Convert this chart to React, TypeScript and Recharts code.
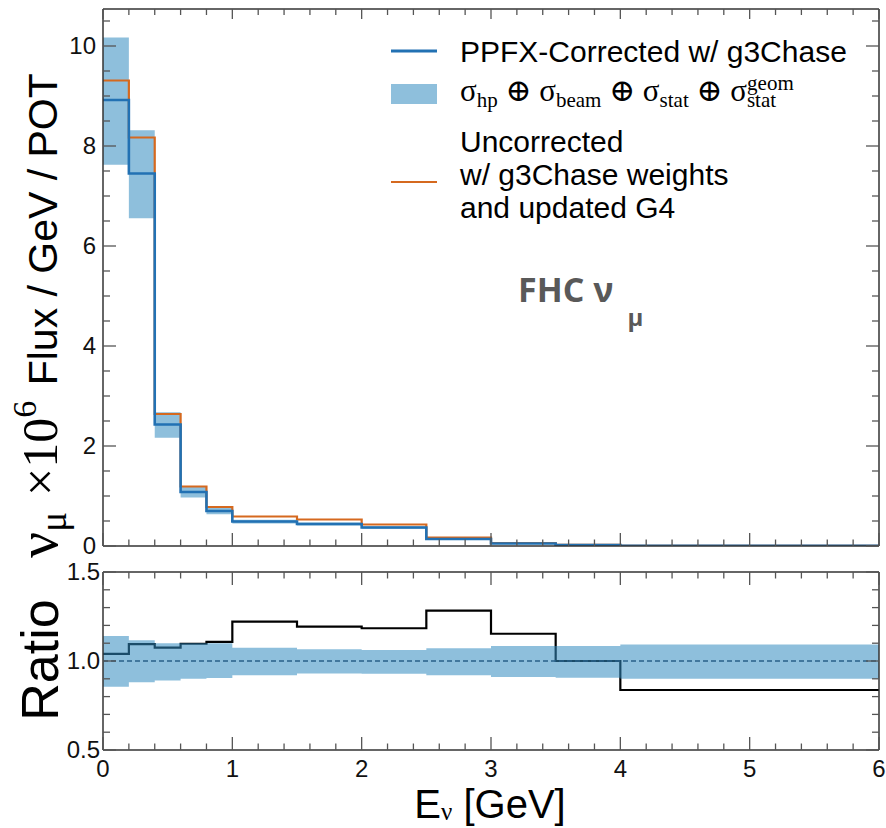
import React from "react";
import { ComposedChart, Line, Area, XAxis, YAxis, ReferenceLine } from "recharts";

// bin edges in GeV (last bin is 4-6)
const binEdges = [0, 0.2, 0.4, 0.6, 0.8, 1.0, 1.5, 2.0, 2.5, 3.0, 3.5, 4.0, 6.0];
// flux x10^6 / GeV / POT
const corrected = [8.92, 7.45, 2.43, 1.08, 0.7, 0.49, 0.44, 0.37, 0.14, 0.05, 0.02, 0.006];
const uncorrected = [9.31, 8.17, 2.64, 1.19, 0.78, 0.59, 0.53, 0.43, 0.17, 0.06, 0.022, 0.005];
const ratioValues = [1.04, 1.095, 1.075, 1.097, 1.107, 1.221, 1.193, 1.184, 1.283, 1.153, 1.0, 0.837];
// relative error band (lower / upper)
const errLow = [0.855, 0.88, 0.89, 0.9, 0.905, 0.92, 0.93, 0.929, 0.92, 0.91, 0.906, 0.9];
const errHigh = [1.14, 1.116, 1.1, 1.1, 1.1, 1.075, 1.066, 1.062, 1.071, 1.084, 1.084, 1.092];

const xMajor = [0, 1, 2, 3, 4, 5, 6];
const fluxMajor = [0, 2, 4, 6, 8, 10];
const ratioMajor = [0.5, 1.0, 1.5];

const xTicks = Array.from({ length: 31 }, (_, i) => Math.round(i * 2) / 10);
const fluxTicks = Array.from({ length: 22 }, (_, i) => i * 0.5);
const ratioTicks = Array.from({ length: 11 }, (_, i) => (5 + i) / 10);

const last = corrected.length - 1;
const fluxRows = binEdges.map((x, i) => {
  const k = Math.min(i, last);
  return {
    x,
    corr: corrected[k],
    uncorr: uncorrected[k],
    band: [corrected[k] * errLow[k], corrected[k] * errHigh[k]],
  };
});
const ratioRows = binEdges.map((x, i) => {
  const k = Math.min(i, last);
  return { x, ratio: ratioValues[k], band: [errLow[k], errHigh[k]] };
});

const BLUE = "#2271b3";
const ORANGE = "#d5691f";
const BAND = "#8ebfdc";
const FRAME = "#333";
const TICK = "#555";
const SANS = "Liberation Sans, Arial, Helvetica, sans-serif";
const SERIF = "Liberation Serif, DejaVu Serif, Times New Roman, serif";

const W = 886;
const PL = 103;
const PR = 879;
const RATIO_TOP = 548; // page offset of the ratio chart

const isMajor = (v: number, majors: number[]) => majors.some((m) => Math.abs(m - v) < 1e-6);

// ROOT style ticks point into the frame
const xTick = (base: number, dir: number, majLen: number, minLen: number, withLabels: boolean) => (p: any) => {
  const v = p.payload.value;
  const major = isMajor(v, xMajor);
  return (
    <g>
      <line x1={p.x} x2={p.x} y1={base} y2={base + dir * (major ? majLen : minLen)} stroke={TICK} strokeWidth={1.3} />
      {withLabels && major && (
        <text x={p.x} y={base + 27} textAnchor="middle" fontSize={24} fontFamily={SANS} fill="#111">
          {v}
        </text>
      )}
    </g>
  );
};

const yTick = (base: number, dir: number, majors: number[], labelX: number | null, fmt: (v: number) => string) => (p: any) => {
  const v = p.payload.value;
  const major = isMajor(v, majors);
  return (
    <g>
      <line x1={base} x2={base + dir * (major ? 13 : 7)} y1={p.y} y2={p.y} stroke={TICK} strokeWidth={1.3} />
      {labelX !== null && major && (
        <text x={labelX} y={p.y + 8} textAnchor="end" fontSize={24} fontFamily={SANS} fill="#111">
          {fmt(v)}
        </text>
      )}
    </g>
  );
};

const FluxPanel = () => (
  <ComposedChart
    width={W}
    height={560}
    data={fluxRows}
    margin={{ top: 8, right: W - PR - 1, bottom: 13, left: 0 }}
    style={{ overflow: "visible" }}
  >
    <XAxis
      dataKey="x"
      type="number"
      domain={[0, 6]}
      ticks={xTicks}
      interval={0}
      height={1}
      tickLine={false}
      axisLine={{ stroke: FRAME, strokeWidth: 1.5 }}
      tick={xTick(546, -1, 13, 6.5, false)}
      allowDataOverflow
    />
    <XAxis
      xAxisId="top"
      orientation="top"
      dataKey="x"
      type="number"
      domain={[0, 6]}
      ticks={xTicks}
      interval={0}
      height={1}
      tickLine={false}
      axisLine={{ stroke: FRAME, strokeWidth: 1.5 }}
      tick={xTick(9, 1, 10, 6, false)}
      allowDataOverflow
    />
    <YAxis
      type="number"
      domain={[0, 10.74]}
      ticks={fluxTicks}
      interval={0}
      width={PL}
      tickLine={false}
      axisLine={{ stroke: FRAME, strokeWidth: 1.5 }}
      tick={yTick(PL, 1, fluxMajor, 96, (v) => String(v))}
      allowDataOverflow
    />
    <YAxis
      yAxisId="right"
      orientation="right"
      type="number"
      domain={[0, 10.74]}
      ticks={fluxTicks}
      interval={0}
      width={1}
      tickLine={false}
      axisLine={{ stroke: FRAME, strokeWidth: 1.5 }}
      tick={yTick(PR, -1, fluxMajor, null, (v) => String(v))}
      allowDataOverflow
    />
    <Area dataKey="band" type="stepAfter" fill={BAND} fillOpacity={1} stroke="none" isAnimationActive={false} />
    <Line dataKey="uncorr" type="stepAfter" stroke={ORANGE} strokeWidth={2.2} dot={false} isAnimationActive={false} />
    <Line dataKey="corr" type="stepAfter" stroke={BLUE} strokeWidth={2.6} dot={false} isAnimationActive={false} />
    <Line
      dataKey="corr"
      xAxisId="top"
      yAxisId="right"
      stroke="none"
      dot={false}
      legendType="none"
      isAnimationActive={false}
    />
  </ComposedChart>
);

const RatioPanel = () => (
  <ComposedChart
    width={W}
    height={828 - RATIO_TOP}
    data={ratioRows}
    margin={{ top: 572 - RATIO_TOP - 1, right: W - PR - 1, bottom: 77, left: 0 }}
    style={{ overflow: "visible" }}
  >
    <XAxis
      dataKey="x"
      type="number"
      domain={[0, 6]}
      ticks={xTicks}
      interval={0}
      height={1}
      tickLine={false}
      axisLine={{ stroke: FRAME, strokeWidth: 1.5 }}
      tick={xTick(750 - RATIO_TOP, -1, 13, 6.5, true)}
      allowDataOverflow
    />
    <XAxis
      xAxisId="top"
      orientation="top"
      dataKey="x"
      type="number"
      domain={[0, 6]}
      ticks={xTicks}
      interval={0}
      height={1}
      tickLine={false}
      axisLine={{ stroke: FRAME, strokeWidth: 1.5 }}
      tick={xTick(572 - RATIO_TOP, 1, 13, 6.5, false)}
      allowDataOverflow
    />
    <YAxis
      type="number"
      domain={[0.5, 1.5]}
      ticks={ratioTicks}
      interval={0}
      width={PL}
      tickLine={false}
      axisLine={{ stroke: FRAME, strokeWidth: 1.5 }}
      tick={yTick(PL, 1, ratioMajor, 100, (v) => v.toFixed(1))}
      allowDataOverflow
    />
    <YAxis
      yAxisId="right"
      orientation="right"
      type="number"
      domain={[0.5, 1.5]}
      ticks={ratioTicks}
      interval={0}
      width={1}
      tickLine={false}
      axisLine={{ stroke: FRAME, strokeWidth: 1.5 }}
      tick={yTick(PR, -1, ratioMajor, null, (v) => v.toFixed(1))}
      allowDataOverflow
    />
    <Line dataKey="ratio" type="stepAfter" stroke="#000" strokeWidth={2.2} dot={false} isAnimationActive={false} />
    <ReferenceLine y={1} stroke="#1c2b45" strokeWidth={1.3} strokeDasharray="5 3" />
    <Area
      dataKey="band"
      type="stepAfter"
      fill="#318bbf"
      fillOpacity={0.55}
      stroke="none"
      isAnimationActive={false}
      {...({ zIndex: 450 } as any)}
    />
    <Line
      dataKey="ratio"
      xAxisId="top"
      yAxisId="right"
      stroke="none"
      dot={false}
      legendType="none"
      isAnimationActive={false}
    />
  </ComposedChart>
);

const Overlay = () => (
  <svg width={W} height={828} style={{ position: "absolute", left: 0, top: 0, pointerEvents: "none" }}>
    {/* y titles */}
    <text transform="translate(57,558) rotate(-90)" textAnchor="start" fontSize={41} fontFamily={SANS} fill="#000">
      <tspan fontFamily={SERIF} fontSize={58}>ν</tspan>
      <tspan fontFamily={SERIF} fontSize={37} dy={9}>μ</tspan>
      <tspan fontFamily={SERIF} fontSize={50} dx={16} dy={-9}>×10</tspan>
      <tspan fontFamily={SERIF} fontSize={34} dy={-21}>6</tspan>
      <tspan dx={4} dy={21}> Flux / GeV / POT</tspan>
    </text>
    <text transform="translate(58,660) rotate(-90)" textAnchor="middle" fontSize={52} fontFamily={SANS} fill="#000">
      Ratio
    </text>
    {/* x title */}
    <text x={490} y={818} textAnchor="middle" fontSize={40} fontFamily={SANS} fill="#000">
      E<tspan fontFamily={SERIF} fontSize={25} dy={2}>ν</tspan>
      <tspan dy={-2}> [GeV]</tspan>
    </text>

    {/* legend */}
    <line x1={391} x2={437} y1={51} y2={51} stroke={BLUE} strokeWidth={3} />
    <text x={460} y={62} fontSize={30} fontFamily={SANS} fill="#000">PPFX-Corrected w/ g3Chase</text>
    <rect x={391} y={84} width={46} height={20} fill={BAND} />
    <text x={460} y={101} fontSize={31} fontFamily={SERIF} fill="#000">
      σ<tspan fontSize={21} dy={6}>hp</tspan>
      <tspan dy={-6}> ⊕ σ</tspan>
      <tspan fontSize={21} dy={6}>beam</tspan>
      <tspan dy={-6}> ⊕ σ</tspan>
      <tspan fontSize={21} dy={6}>stat</tspan>
      <tspan dy={-6}> ⊕ σ</tspan>
      <tspan fontSize={21} dy={6}>stat</tspan>
      <tspan fontSize={21} dx={-29} dy={-17}>geom</tspan>
    </text>
    <line x1={391} x2={437} y1={182} y2={182} stroke={ORANGE} strokeWidth={2.2} />
    <text x={460} y={152} fontSize={30} fontFamily={SANS} fill="#000">Uncorrected</text>
    <text x={460} y={185} fontSize={30} fontFamily={SANS} fill="#000">w/ g3Chase weights</text>
    <text x={460} y={218} fontSize={30} fontFamily={SANS} fill="#000">and updated G4</text>

    {/* beam mode tag */}
    <text x={518} y={302} fontSize={34} fontWeight={700} fontFamily="Open Sans, sans-serif" fill="#595959">
      FHC ν<tspan fontSize={24} dx={14} dy={24}>μ</tspan>
    </text>
  </svg>
);

export default function App() {
  return (
    <div style={{ position: "absolute", left: 0, top: 0, width: W, height: 828, background: "#fff" }}>
      <div style={{ position: "absolute", left: 0, top: 0 }}>
        <FluxPanel />
      </div>
      <div style={{ position: "absolute", left: 0, top: RATIO_TOP }}>
        <RatioPanel />
      </div>
      <Overlay />
    </div>
  );
}
